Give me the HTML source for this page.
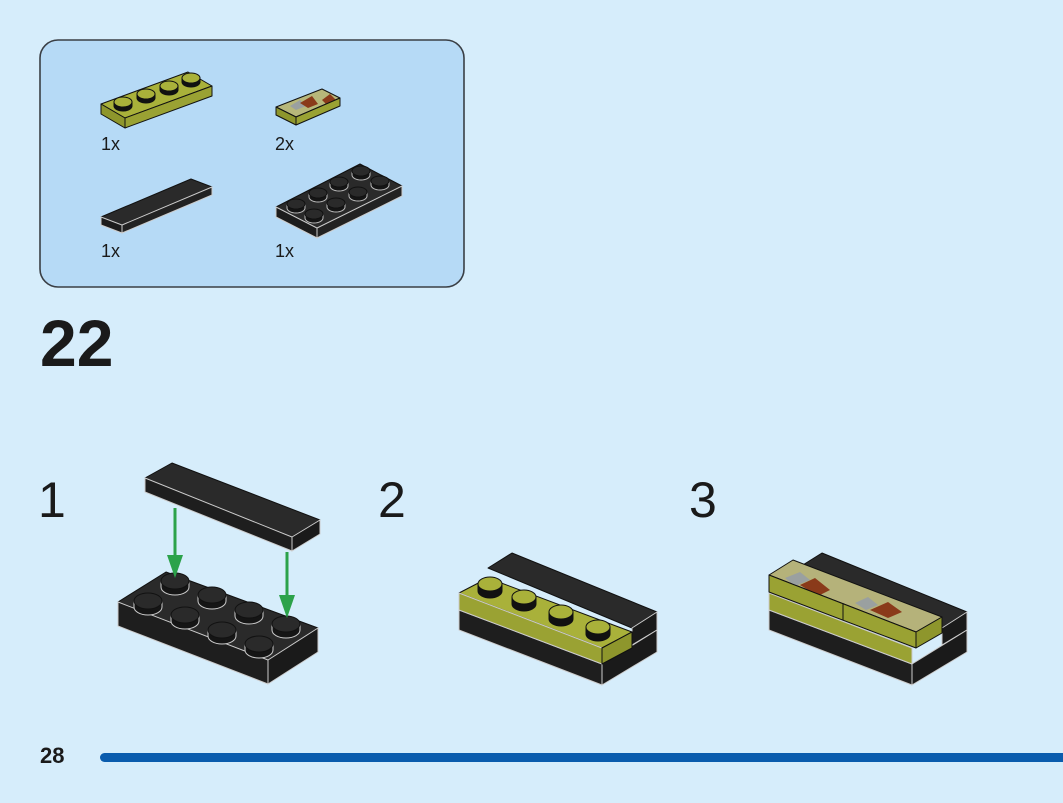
<!DOCTYPE html>
<html><head><meta charset="utf-8"><style>
html,body{margin:0;padding:0;background:#d6edfb;width:1063px;height:803px;overflow:hidden;font-family:"Liberation Sans",sans-serif}
</style></head><body>
<svg id="s" width="1063" height="803" viewBox="0 0 1063 803" xmlns="http://www.w3.org/2000/svg" style="position:absolute;left:0;top:0">
<rect x="40" y="40" width="424" height="247" rx="18" fill="#b6daf6" stroke="#3a3f45" stroke-width="1.6"/>
<g font-family="Liberation Sans, sans-serif" fill="#1a1a1a" font-size="18">
<text x="101" y="150">1x</text><text x="275" y="150">2x</text>
<text x="101" y="257">1x</text><text x="275" y="257">1x</text>
<text x="40" y="366" font-size="66" font-weight="bold">22</text>
<text x="38" y="517" font-size="50">1</text>
<text x="378" y="517" font-size="50">2</text>
<text x="689" y="517" font-size="50">3</text>
<text x="40" y="763" font-size="22" font-weight="bold">28</text>
</g>
<rect x="100" y="753" width="970" height="9" rx="4.5" fill="#0a5cad"/>

<g stroke="#111" stroke-width="1" stroke-linejoin="round">
<polygon points="101,104 188,72 212,86 125,118" fill="#a9b13a"/>
<polygon points="101,104 125,118 125,128 101,114" fill="#8e962c"/>
<polygon points="125,118 212,86 212,96 125,128" fill="#9aa233"/>
<g id="st1"></g>
<polygon points="276,107 322,89 340,98 296,117" fill="#b7b77a"/>
<polygon points="290,106 300,100 306,106 296,110" fill="#9aa0a0" stroke="none"/>
<polygon points="300,103 312,96 318,104 308,108" fill="#8a3a1a" stroke="none"/>
<polygon points="322,100 330,94 336,100 326,104" fill="#8a3a1a" stroke="none"/>
<polygon points="276,107 296,117 296,125 276,115" fill="#8e962c"/>
<polygon points="296,117 340,98 340,106 296,125" fill="#9aa233"/>
<polygon points="101,217 191,179 212,187 122,225" fill="#2a2a2a"/>
<polygon points="101,217 122,225 122,233 101,225" fill="#1c1c1c" stroke="#ccc"/>
<polygon points="122,225 212,187 212,195 122,233" fill="#222" stroke="#ccc"/>
<polygon points="276,207 360,164 402,186 317,228" fill="#2a2a2a"/>
<polygon points="276,207 317,228 317,238 276,217" fill="#1c1c1c" stroke="#ccc"/>
<polygon points="317,228 402,186 402,196 317,238" fill="#222" stroke="#ccc"/>
<g id="st2"></g>

<polygon points="145,478 172,463 320,520 292,537" fill="#2a2a2a"/>
<polygon points="145,478 292,537 292,551 145,492" fill="#1e1e1e" stroke="#ccc"/>
<polygon points="292,537 320,520 320,534 292,551" fill="#1a1a1a" stroke="#ccc"/>
<polygon points="118,602 166,572 318,628 268,660" fill="#2a2a2a"/>
<polygon points="118,602 268,660 268,684 118,626" fill="#1e1e1e" stroke="#ccc"/>
<polygon points="268,660 318,628 318,652 268,684" fill="#1a1a1a" stroke="#ccc"/>
<g id="st3"></g>
</g>
<g stroke="#2ca24a" stroke-width="3" fill="#2ca24a">
<line x1="175" y1="508" x2="175" y2="560"/><polygon points="167,555 183,555 175,578" stroke="none"/>
<line x1="287" y1="552" x2="287" y2="600"/><polygon points="279,595 295,595 287,618" stroke="none"/>
</g>

<g stroke="#111" stroke-width="1" stroke-linejoin="round">
<polygon points="488,568 512,553 657,612 632,628" fill="#2a2a2a"/>
<polygon points="632,628 657,612 657,630 632,645" fill="#1a1a1a" stroke="#ccc"/>
<polygon points="459,610 602,664 602,685 459,630" fill="#1e1e1e" stroke="#ccc"/>
<polygon points="602,664 657,630 657,652 602,685" fill="#1a1a1a" stroke="#ccc"/>
<polygon points="459,593 488,578 632,632 602,648" fill="#a9b13a"/>
<polygon points="459,593 602,648 602,664 459,610" fill="#9aa233" stroke="#ccc"/>
<polygon points="602,648 632,632 632,648 602,664" fill="#8e962c"/>
<g id="st4"></g>

<polygon points="798,568 822,553 967,612 942,628" fill="#2a2a2a"/>
<polygon points="942,628 967,612 967,630 942,645" fill="#1a1a1a" stroke="#ccc"/>
<polygon points="769,610 912,664 912,685 769,630" fill="#1e1e1e" stroke="#ccc"/>
<polygon points="912,664 967,630 967,652 912,685" fill="#1a1a1a" stroke="#ccc"/>
<polygon points="769,593 912,648 912,664 769,610" fill="#9aa233" stroke="#ccc"/>
<polygon points="769,575 793,560 942,617 916,632" fill="#b5b27a"/>
<polygon points="785,578 800,572 810,580 795,586" fill="#9aa0a0" stroke="none"/>
<polygon points="800,585 815,578 830,590 818,596" fill="#8a3a1a" stroke="none"/>
<polygon points="855,603 868,597 878,605 866,610" fill="#9aa0a0" stroke="none"/>
<polygon points="870,610 888,602 902,612 888,618" fill="#8a3a1a" stroke="none"/>
<polygon points="769,575 916,632 916,648 769,592" fill="#9aa233"/>
<polygon points="916,632 942,617 942,633 916,648" fill="#8e962c"/>
<line x1="843" y1="603" x2="843" y2="620"/>
</g>
</svg>
<script>
function studs(id,list,rx,ry,h,top,side,edge){
 var g=document.getElementById(id),s='';
 list.forEach(function(p){var x=p[0],y=p[1];
  s+='<path d="M'+(x-rx)+','+(y-h)+' L'+(x-rx)+','+y+' A'+rx+','+ry+' 0 0 0 '+(x+rx)+','+y+' L'+(x+rx)+','+(y-h)+' Z" fill="'+side+'" stroke="'+edge+'"/>';
  s+='<ellipse cx="'+x+'" cy="'+(y-h)+'" rx="'+rx+'" ry="'+ry+'" fill="'+top+'" stroke="#111"/>';});
 g.innerHTML=s;}
studs('st1',[[123,106],[146,98],[169,90],[191,82]],9,5,4,'#a9b13a','#111','#111');
studs('st2',[[361,175],[339,186],[380,185],[318,197],[358,196],[296,208],[336,207],[314,218]],9,5,4,'#2a2a2a','#151515','#bbb');
studs('st3',[[175,587],[212,601],[249,616],[286,630],[148,607],[185,621],[222,636],[259,650]],14,8,6,'#2a2a2a','#151515','#ccc');
studs('st4',[[490,591],[524,604],[561,619],[598,634]],12,7,7,'#a9b13a','#111','#111');
</script>
</body></html>
